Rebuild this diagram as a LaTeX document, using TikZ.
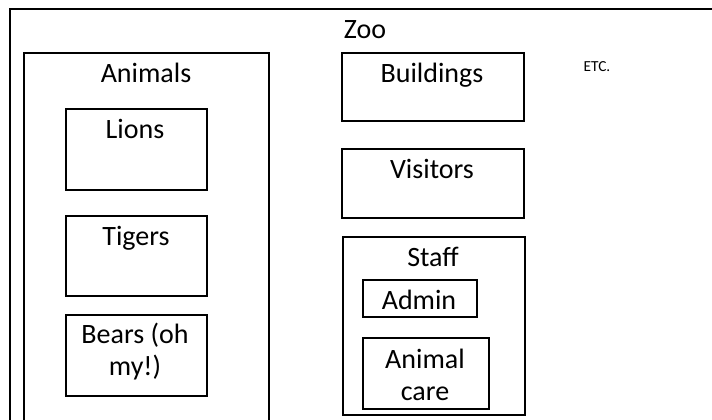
\documentclass[tikz,border=0pt]{standalone}
\usepackage{fontspec}
\setmainfont{Carlito}
\newcommand{\px}{0.75pt}
\tikzset{
  box/.style={draw, line width=1.5pt, anchor=north west, inner sep=0pt},
  lbl/.style={font=\fontsize{21}{23.3}\selectfont, anchor=base, inner sep=0pt, align=center},
  small/.style={font=\fontsize{11.5}{13}\selectfont, anchor=base, inner sep=0pt}
}
\begin{document}
\begin{tikzpicture}[x=\px, y=-\px]
  \useasboundingbox (0,0) rectangle (712,419);
  % outer frame runs off the page
  \node[box, minimum width=730*\px, minimum height=440*\px] (zoo) at (9,8) {};
  \node[lbl] (zooT) at (365,38) {Zoo};
  % animals
  \node[box, minimum width=245*\px, minimum height=400*\px] (animals) at (23,52) {};
  \node[lbl] (animalsT) at (146,82) {Animals};
  \node[box, minimum width=141*\px, minimum height=81*\px] (lions) at (65,108) {};
  \node[lbl] (lionsT) at (135,138) {Lions};
  \node[box, minimum width=141*\px, minimum height=80*\px] (tigers) at (65,215) {};
  \node[lbl] (tigersT) at (136,245) {Tigers};
  \node[box, minimum width=141*\px, minimum height=81*\px] (bears) at (65,314) {};
  \node[lbl] (bearsT) at (135,375) {Bears (oh\\my!)};
  % buildings and visitors
  \node[box, minimum width=182*\px, minimum height=68*\px] (buildings) at (341,52) {};
  \node[lbl] (buildingsT) at (432,82) {Buildings};
  \node[box, minimum width=182*\px, minimum height=69*\px] (visitors) at (341,148) {};
  \node[lbl] (visitorsT) at (432,178) {Visitors};
  % staff
  \node[box, minimum width=182*\px, minimum height=178*\px] (staff) at (342,236) {};
  \node[lbl] (staffT) at (433,266) {Staff};
  \node[box, minimum width=114*\px, minimum height=37*\px] (admin) at (362,279) {};
  \node[lbl] (adminT) at (419,309) {Admin};
  \node[box, minimum width=126*\px, minimum height=71*\px] (care) at (362,337) {};
  \node[lbl] (careT) at (425,400) {Animal\\care};
  \node[small] (etc) at (597,71) {ETC.};
\end{tikzpicture}
\end{document}
